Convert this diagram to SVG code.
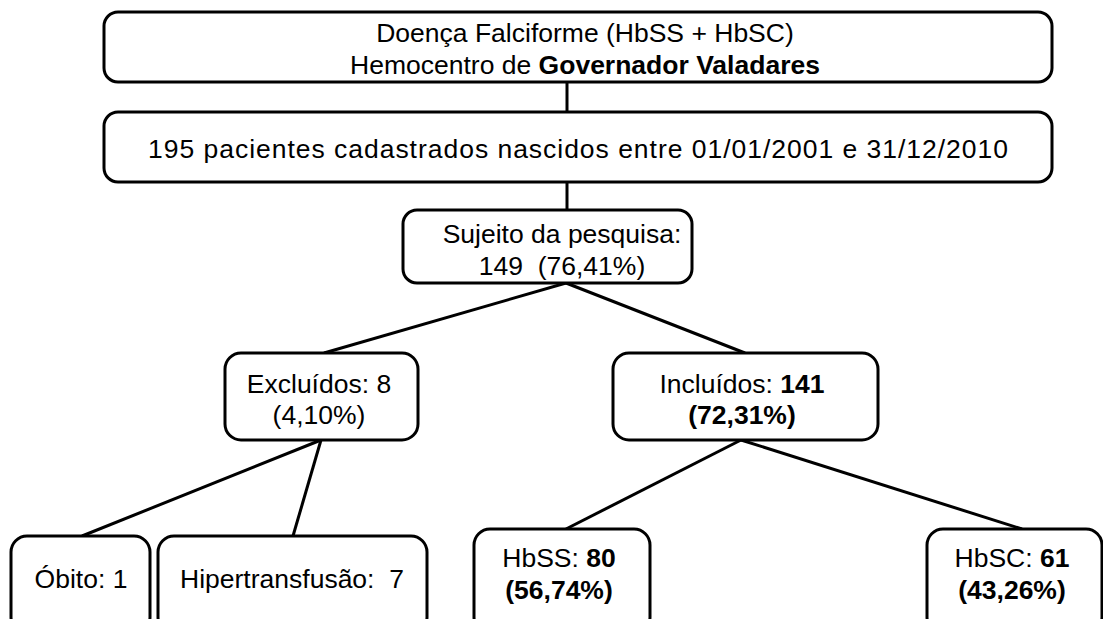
<svg xmlns="http://www.w3.org/2000/svg" width="1103" height="619" viewBox="0 0 1103 619">
<style>
.box{fill:#fff;stroke:#000;stroke-width:3}
.t{font-family:"Liberation Sans",Arial,sans-serif;font-size:26.5px;fill:#000;text-anchor:middle;white-space:pre}
.b{font-weight:bold}
.c{stroke:#000;stroke-width:3;fill:none}
</style>
<rect width="1103" height="619" fill="#fff"/>
<g id="connectors">
<line class="c" x1="567" y1="82" x2="567" y2="112"/>
<line class="c" x1="567" y1="182" x2="567" y2="210"/>
<line class="c" x1="566" y1="283" x2="324" y2="353"/>
<line class="c" x1="566" y1="283" x2="745" y2="353"/>
<line class="c" x1="321" y1="440" x2="82" y2="536"/>
<line class="c" x1="321" y1="440" x2="293" y2="536"/>
<line class="c" x1="741" y1="440" x2="566" y2="529"/>
<line class="c" x1="741" y1="440" x2="1022" y2="529"/>
</g>
<g id="n1">
<rect class="box" x="104" y="12" width="948" height="70" rx="14"/>
<text class="t" x="585" y="42">Doença Falciforme (HbSS + HbSC)</text>
<text class="t" x="585" y="74">Hemocentro de <tspan class="b">Governador Valadares</tspan></text>
</g>
<g id="n2">
<rect class="box" x="104" y="112" width="948" height="70" rx="14"/>
<text class="t" x="578" y="158" textLength="860" lengthAdjust="spacing">195 pacientes cadastrados nascidos entre 01/01/2001 e 31/12/2010</text>
</g>
<g id="n3">
<rect class="box" x="403" y="210" width="289" height="73" rx="14"/>
<text class="t" x="562" y="243">Sujeito da pesquisa:</text>
<text class="t" x="562" y="275">149  (76,41%)</text>
</g>
<g id="n4">
<rect class="box" x="225" y="353" width="193" height="87" rx="16"/>
<text class="t" x="319" y="393">Excluídos: 8</text>
<text class="t" x="319" y="424">(4,10%)</text>
</g>
<g id="n5">
<rect class="box" x="613" y="353" width="265" height="87" rx="16"/>
<text class="t" x="742" y="393">Incluídos: <tspan class="b">141</tspan></text>
<text class="t b" x="742" y="424">(72,31%)</text>
</g>
<g id="n6">
<rect class="box" x="11" y="536" width="139" height="97" rx="16"/>
<text class="t" x="81" y="588">Óbito: 1</text>
</g>
<g id="n7">
<rect class="box" x="158" y="536" width="269" height="97" rx="16"/>
<text class="t" x="292" y="588">Hipertransfusão:  7</text>
</g>
<g id="n8">
<rect class="box" x="474" y="529" width="176" height="104" rx="16"/>
<text class="t" x="559" y="567">HbSS: <tspan class="b">80</tspan></text>
<text class="t b" x="559" y="599">(56,74%)</text>
</g>
<g id="n9">
<rect class="box" x="927" y="529" width="175" height="104" rx="16"/>
<text class="t" x="1012" y="567">HbSC: <tspan class="b">61</tspan></text>
<text class="t b" x="1012" y="599">(43,26%)</text>
</g>
</svg>
